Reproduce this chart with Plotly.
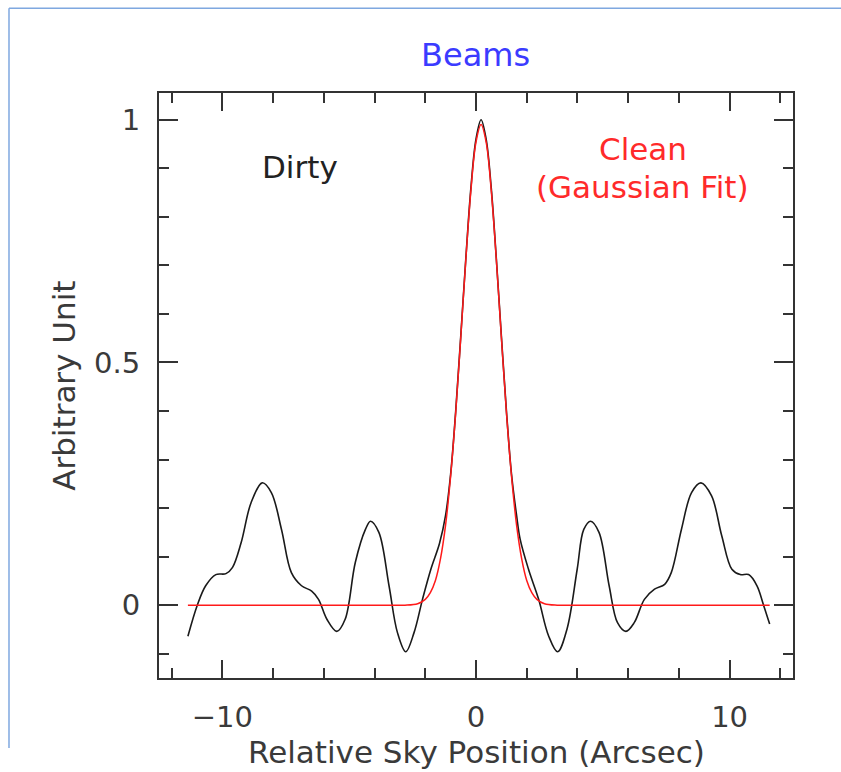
import plotly.graph_objects as go

# Dirty beam profile (arbitrary units) versus relative sky position (arcsec)
dirty_x = [-11.36, -10.99, -10.66, -10.26, -9.86, -9.60, -9.26, -8.87, -8.43, -8.07,
           -7.67, -7.28, -6.88, -6.48, -6.21, -5.88, -5.49, -5.16, -4.76, -4.36,
           -4.16, -3.83, -3.43, -3.10, -2.77, -2.44, -2.11, -1.78, -1.44, -1.20,
           -1.00, -0.80, -0.60, -0.40, -0.20, 0.00, 0.20, 0.40, 0.60, 0.80,
           1.00, 1.20, 1.40, 1.60, 1.74, 2.07, 2.47, 2.86, 3.22, 3.59,
           3.99, 4.25, 4.52, 4.85, 5.25, 5.58, 5.91, 6.24, 6.64, 7.04,
           7.44, 7.70, 8.10, 8.50, 8.87, 9.29, 9.69, 10.09, 10.42, 10.75,
           11.08, 11.34, 11.58]
dirty_y = [-0.064, 0.000, 0.040, 0.063, 0.065, 0.078, 0.129, 0.211, 0.252, 0.232,
           0.156, 0.067, 0.040, 0.029, 0.012, -0.029, -0.054, -0.029, 0.088, 0.156,
           0.173, 0.150, 0.040, -0.056, -0.096, -0.056, 0.012, 0.074, 0.127, 0.185,
           0.270, 0.400, 0.555, 0.715, 0.860, 0.960, 1.000, 0.960, 0.860, 0.715,
           0.555, 0.400, 0.270, 0.185, 0.136, 0.074, 0.012, -0.063, -0.096, -0.049,
           0.074, 0.156, 0.173, 0.150, 0.040, -0.036, -0.054, -0.036, 0.012, 0.033,
           0.043, 0.067, 0.156, 0.232, 0.252, 0.225, 0.143, 0.074, 0.063, 0.063,
           0.040, 0.000, -0.039]

# Clean beam: Gaussian fitted to the main lobe of the dirty beam
clean_x = [-11.36, -8.0, -5.0, -3.4, -2.8, -2.3, -2.0, -1.8, -1.6, -1.4,
           -1.2, -1.0, -0.8, -0.6, -0.4, -0.2, 0.0, 0.2, 0.4, 0.6,
           0.8, 1.0, 1.2, 1.4, 1.6, 1.8, 2.0, 2.2, 2.4, 2.7,
           3.2, 3.8, 6.0, 9.0, 11.58]
clean_y = [0.0, 0.0, 0.0, 0.0, 0.0, 0.003, 0.012, 0.026, 0.051, 0.096,
           0.165, 0.266, 0.397, 0.552, 0.713, 0.855, 0.954, 0.990, 0.954, 0.855,
           0.713, 0.552, 0.397, 0.266, 0.165, 0.096, 0.051, 0.026, 0.012, 0.003,
           0.0, 0.0, 0.0, 0.0, 0.0]

x_tick_vals = [-10, 0, 10]
y_tick_vals = [0, 0.5, 1]
y_tick_text = ["0", "0.5", "1"]

FONT = "DejaVu Sans"
INK = "#3a3a3a"
AXIS = "#333333"

fig = go.Figure()
fig.add_trace(go.Scatter(x=dirty_x, y=dirty_y, mode="lines", name="Dirty",
                         line=dict(color="#1a1a1a", width=1.6, shape="spline", smoothing=1.0)))
fig.add_trace(go.Scatter(x=clean_x, y=clean_y, mode="lines", name="Clean",
                         line=dict(color="#ff1a1a", width=1.5, shape="spline", smoothing=1.0)))

axis_common = dict(
    showgrid=False, zeroline=False, showline=True, linecolor=AXIS, linewidth=2,
    mirror="allticks", ticks="inside", tickcolor=AXIS, tickwidth=1.6,
    tickfont=dict(family=FONT, size=29, color=INK),
)

fig.update_xaxes(range=[-12.5, 12.5], tickvals=x_tick_vals, ticklen=18,
                 ticklabelstandoff=12,
                 minor=dict(ticks="inside", dtick=2, tick0=0, ticklen=10,
                            tickcolor=AXIS, tickwidth=1.6),
                 **axis_common)
fig.update_yaxes(range=[-0.15, 1.055], tickvals=y_tick_vals, ticktext=y_tick_text,
                 ticklen=19, ticklabelstandoff=11,
                 minor=dict(ticks="inside", dtick=0.1, tick0=0, ticklen=10,
                            tickcolor=AXIS, tickwidth=1.6),
                 **axis_common)

fig.update_layout(
    width=841, height=772,
    margin=dict(l=159, r=48, t=93, b=94),
    paper_bgcolor="white", plot_bgcolor="white",
    showlegend=False,
    title=dict(text="Beams", x=0.5656, xanchor="center", y=0.929, yanchor="middle",
               font=dict(family=FONT, size=32, color="#3b3bff")),
    annotations=[
        dict(text="Relative Sky Position (Arcsec)", xref="paper", yref="paper",
             x=0.5, y=-0.1265, xanchor="center", yanchor="middle", showarrow=False,
             font=dict(family=FONT, size=31, color=INK)),
        dict(text="Arbitrary Unit", xref="paper", yref="paper", textangle=-90,
             x=-0.151, y=0.5, xanchor="center", yanchor="middle", showarrow=False,
             font=dict(family=FONT, size=31, color=INK)),
        dict(text="Dirty", xref="x", yref="y", x=-6.94, y=0.903, showarrow=False,
             font=dict(family=FONT, size=31, color="#222222")),
        dict(text="Clean", xref="x", yref="y", x=6.58, y=0.94, showarrow=False,
             font=dict(family=FONT, size=31, color="#ff2a2a")),
        dict(text="(Gaussian Fit)", xref="x", yref="y", x=6.58, y=0.862, showarrow=False,
             font=dict(family=FONT, size=31, color="#ff2a2a")),
    ],
    shapes=[
        # light blue page frame on the left and top
        dict(type="line", xref="paper", yref="paper", x0=-0.2366, x1=-0.2366,
             y0=1.145, y1=-0.1197, line=dict(color="#7fa8e0", width=1.5)),
        dict(type="line", xref="paper", yref="paper", x0=-0.2366, x1=1.1,
             y0=1.145, y1=1.145, line=dict(color="#7fa8e0", width=1.5)),
    ],
)

fig.write_html("out.html")
